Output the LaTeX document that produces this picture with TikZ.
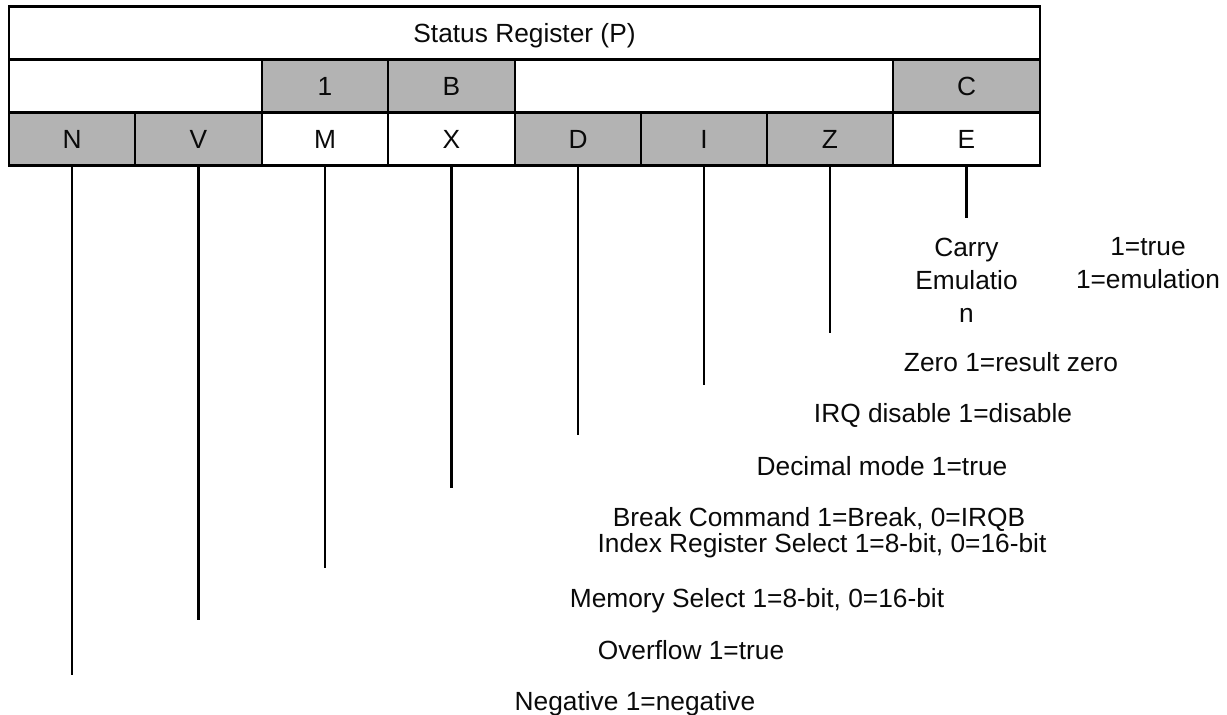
\documentclass[tikz,border=0pt]{standalone}
\usepackage{fontspec}
\setmainfont{Liberation Sans}
\definecolor{cellgray}{RGB}{179,179,179}
\definecolor{inkc}{RGB}{10,10,10}
\begin{document}
\begin{tikzpicture}[x=1pt,y=-1pt,
  cell/.style={draw=black,line width=2.8pt,rectangle,inner sep=0pt,
    minimum height=53pt,font=\fontsize{26.3}{30}\selectfont,text=inkc,
    text height=18.8pt,text depth=0pt},
  gcell/.style={cell,fill=cellgray},
  wcell/.style={cell,fill=white},
  lbl/.style={inner sep=0pt,font=\fontsize{26.3}{30}\selectfont,text=inkc,
    text height=18.8pt,text depth=0pt},
  mlbl/.style={inner sep=0pt,font=\fontsize{26.3}{33}\selectfont,text=inkc,
    align=center,anchor=north},
  tick/.style={line width=2.8pt,black}]
\useasboundingbox (0,0) rectangle (1227,715);
% row 1
\node[wcell,minimum width=1031pt] (title) at (524.5,33) {Status Register (P)};
% row 2
\node[wcell,minimum width=253pt] (r2a) at (135.5,86.5) {};
\node[gcell,minimum width=126pt] (one) at (325,86.5) {1};
\node[gcell,minimum width=127pt] (bb) at (451.5,86.5) {B};
\node[wcell,minimum width=378pt] (r2b) at (704,86.5) {};
\node[gcell,minimum width=147pt] (cc) at (966.5,86.5) {C};
% row 3
\node[gcell,minimum width=126pt] (cN) at (72,139) {N};
\node[gcell,minimum width=127pt] (cV) at (198.5,139) {V};
\node[wcell,minimum width=126pt] (cM) at (325,139) {M};
\node[wcell,minimum width=127pt] (cX) at (451.5,139) {X};
\node[gcell,minimum width=126pt] (cD) at (578,139) {D};
\node[gcell,minimum width=126pt] (cI) at (704,139) {I};
\node[gcell,minimum width=126pt] (cZ) at (830,139) {Z};
\node[wcell,minimum width=147pt] (cE) at (966.5,139) {E};
% line end points
\coordinate (eN) at (72,675);
\coordinate (eV) at (198.5,620);
\coordinate (eM) at (325,568);
\coordinate (eX) at (451.5,488);
\coordinate (eD) at (578,435);
\coordinate (eI) at (704,385);
\coordinate (eZ) at (830,333);
\coordinate (eE) at (966.5,218);
\draw[tick] (cN.south) -- (eN);
\draw[tick] (cV.south) -- (eV);
\draw[tick] (cM.south) -- (eM);
\draw[tick] (cX.south) -- (eX);
\draw[tick] (cD.south) -- (eD);
\draw[tick] (cI.south) -- (eI);
\draw[tick] (cZ.south) -- (eZ);
\draw[tick] (cE.south) -- (eE);
% labels
\node[mlbl] (tC) at (966.5,237.5) {Carry\\Emulatio\\n};
\node[mlbl] (tCv) at (1148,237.5) {1=true\\1=emulation};
\node[lbl] (tZ) at (1011,362) {Zero 1=result zero};
\node[lbl] (tI) at (943,413) {IRQ disable 1=disable};
\node[lbl] (tD) at (882,466) {Decimal mode 1=true};
\node[lbl] (tB) at (819,517) {Break Command 1=Break, 0=IRQB};
\node[lbl] (tX) at (822,543) {Index Register Select 1=8-bit, 0=16-bit};
\node[lbl] (tM) at (757,598) {Memory Select 1=8-bit, 0=16-bit};
\node[lbl] (tV) at (691,650) {Overflow 1=true};
\node[lbl] (tN) at (635,701) {Negative 1=negative};
\end{tikzpicture}
\end{document}
